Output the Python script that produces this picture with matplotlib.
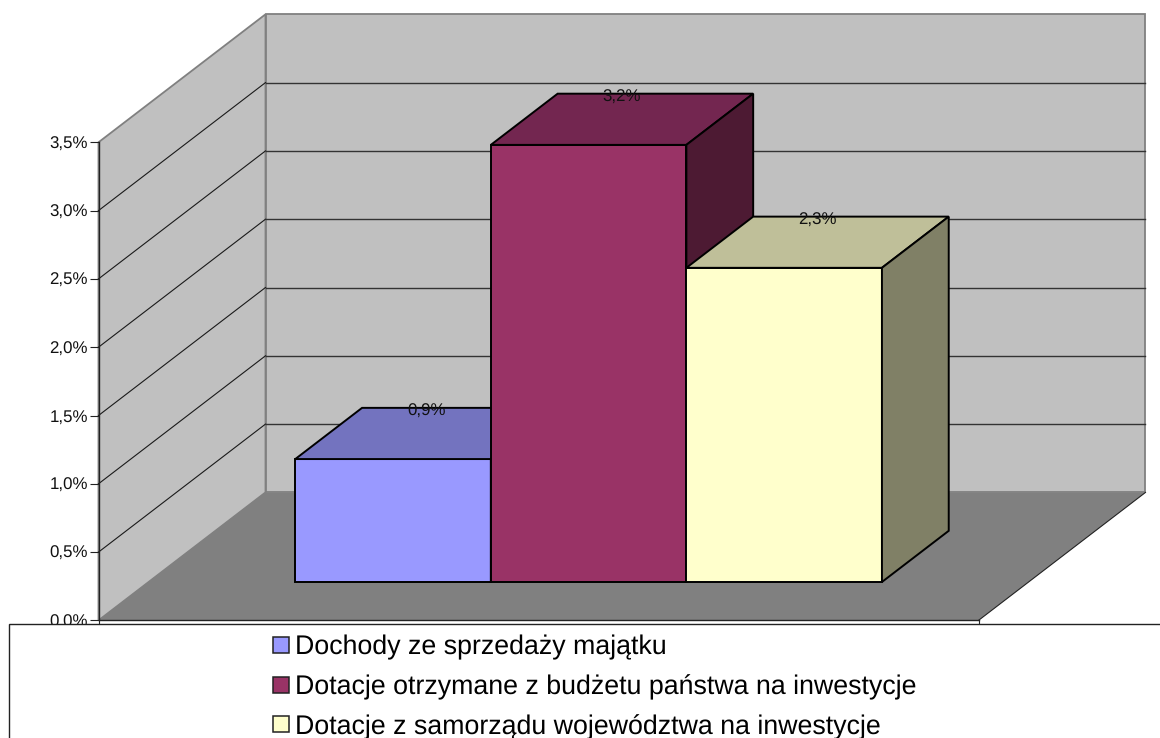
import matplotlib
matplotlib.use("Agg")
import matplotlib.pyplot as plt
from matplotlib.patches import Polygon, Rectangle
from matplotlib.transforms import Affine2D
from matplotlib.ticker import FuncFormatter

# Data
series_names = ["Dochody ze sprzedaży majątku",
                "Dotacje otrzymane z budżetu państwa na inwestycje",
                "Dotacje z samorządu województwa na inwestycje"]
series_values = [0.9, 3.2, 2.3]
data_labels = ["0,9%", "3,2%", "2,3%"]
y_ticks = [0.0, 0.5, 1.0, 1.5, 2.0, 2.5, 3.0, 3.5]

# Style
front_colors = ["#9999FF", "#993366", "#FFFFCC"]
top_colors = ["#7373BF", "#732650", "#BFBF99"]
side_colors = ["#4D4D80", "#4D1A33", "#808066"]
WALL = "#C0C0C0"
FLOOR = "#808080"

# Layout (pixels of the 1160x738 canvas)
W, H = 1160, 738
X0, Y0 = 98.5, 620.4
PX_PER_CAT = 880.0 / 4.5
PX_PER_PCT = 136.6
DEPTH_X, DEPTH_Y = 167.0 / PX_PER_CAT, 128.0 / PX_PER_PCT
X_MAX = 4.5
Y_MAX = 3.5
D_FRONT, D_BACK = 0.3, 0.7
GAP = 0.75


def proj(x, v, d=0.0):
    return (x + d * DEPTH_X, v + d * DEPTH_Y)


plt.rcParams["font.family"] = ["Liberation Sans", "DejaVu Sans"]
plt.rcParams["text.hinting"] = "no_hinting"
fig = plt.figure(figsize=(W / 100, H / 100), dpi=100, facecolor="white")
ax = fig.add_axes([0, 0, 1, 1], facecolor="none")
ax.set_xlim(-X0 / PX_PER_CAT, (W - X0) / PX_PER_CAT)
ax.set_ylim((Y0 - H) / PX_PER_PCT, Y0 / PX_PER_PCT)

for s in ("top", "right"):
    ax.spines[s].set_visible(False)
ax.spines["left"].set_position(("data", 0))
ax.spines["left"].set_bounds(0, Y_MAX)
ax.spines["bottom"].set_position(("data", 0))
ax.spines["bottom"].set_bounds(0, X_MAX)
for s in ("left", "bottom"):
    ax.spines[s].set_color("#222222")
    ax.spines[s].set_linewidth(1.0)
ax.set_yticks(y_ticks)
ax.yaxis.set_major_formatter(FuncFormatter(lambda v, _: f"{v:.1f}%".replace(".", ",")))
ax.tick_params(axis="y", length=6.5, width=0.8, pad=1.0, labelsize=12.2, color="#222222", labelcolor="#111111")
ax.set_xticks([0, X_MAX])
ax.tick_params(axis="x", length=3, width=0.8, labelbottom=False, color="#222222")

# Walls and floor
ax.add_patch(Polygon([proj(0, 0), proj(0, Y_MAX), proj(0, Y_MAX, 1), proj(0, 0, 1)],
                     fc=WALL, ec="#808080", lw=1.3, zorder=1))
ax.add_patch(Polygon([proj(0, 0, 1), proj(0, Y_MAX, 1), proj(X_MAX, Y_MAX, 1), proj(X_MAX, 0, 1)],
                     fc=WALL, ec="#808080", lw=1.3, zorder=1))
ax.add_patch(Polygon([proj(0, 0), proj(0, 0, 1), proj(X_MAX, 0, 1), proj(X_MAX, 0)],
                     fc=FLOOR, ec="none", zorder=1.1))
ax.plot(*zip(proj(X_MAX, 0), proj(X_MAX, 0, 1)), color="#222222", lw=0.8, zorder=1.2)

# Gridlines on both walls
for v in y_ticks[1:-1]:
    ax.plot(*zip(proj(0, v), proj(0, v, 1)), color="#1a1a1a", lw=0.8, zorder=1.2)
    ax.plot(*zip(proj(0, v, 1), proj(X_MAX, v, 1)), color="#333333", lw=1.0, zorder=1.2)

# Bars
for i, (val, lab) in enumerate(zip(series_values, data_labels)):
    x0, x1 = GAP + i, GAP + i + 1
    style = dict(ec="black", lw=1.4, joinstyle="miter", zorder=3 + i)
    ax.add_patch(Polygon([proj(x0, 0, D_FRONT), proj(x0, val, D_FRONT),
                          proj(x1, val, D_FRONT), proj(x1, 0, D_FRONT)],
                         fc=front_colors[i], **style))
    ax.add_patch(Polygon([proj(x0, val, D_FRONT), proj(x0, val, D_BACK),
                          proj(x1, val, D_BACK), proj(x1, val, D_FRONT)],
                         fc=top_colors[i], **style))
    ax.add_patch(Polygon([proj(x1, 0, D_FRONT), proj(x1, val, D_FRONT),
                          proj(x1, val, D_BACK), proj(x1, 0, D_BACK)],
                         fc=side_colors[i], **style))
    lx, _ = proj((x0 + x1) / 2, val, 0.5)
    _, ly = proj(0, val, D_BACK)
    ax.annotate(lab, (lx, ly), xytext=(0, -2.4), textcoords="offset points", ha="center",
                va="center", fontsize=12.2, color="#111111", zorder=10)

# Legend, placed in canvas pixels
px = Affine2D().scale(1 / W, -1 / H).translate(0, 1) + fig.transFigure
ax.add_patch(Rectangle((9.0, 624.0), W + 20, 200, transform=px, fc="white",
                       ec="#222222", lw=1.0, zorder=20))
row_y = [645.0, 684.5, 724.0]
for name, col, y in zip(series_names, front_colors, row_y):
    ax.add_patch(Rectangle((272.5, y - 8), 16, 16, transform=px, fc=col,
                           ec="#222222", lw=1.1, zorder=21))
    ax.text(295.3, y, name, transform=px, ha="left", va="center_baseline",
            fontsize=19.3, color="black", zorder=21)

fig.savefig("out.png", dpi=100)
